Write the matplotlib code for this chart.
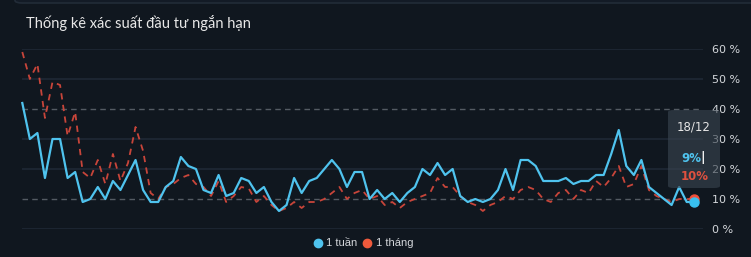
import matplotlib.pyplot as plt
from matplotlib.patches import FancyBboxPatch
from matplotlib.lines import Line2D

# series values (%), one point per day, last day = 18/12
week_1 = [42, 30, 32, 17, 30, 30, 17, 19, 9, 10,
          14, 10, 16, 13, 18, 23, 13, 9, 9, 14,
          16, 24, 21, 20, 13, 12, 18, 11, 12, 17,
          16, 12, 14, 9, 6, 8, 17, 12, 16, 17,
          20, 23, 20, 14, 19, 19, 10, 13, 10, 12,
          9, 12, 14, 20, 18, 22, 18, 20, 11, 9,
          10, 9, 10, 13, 20, 13, 23, 23, 21, 16,
          16, 16, 17, 15, 16, 16, 18, 18, 25, 33,
          21, 18, 23, 14, 12, 10, 8, 14, 9, 9]
month_1 = [59, 50, 55, 37, 49, 48, 31, 39, 19, 17,
           23, 15, 25, 16, 22, 34, 26, 12, 10, 14,
           15, 17, 18, 15, 14, 11, 16, 9, 11, 14,
           13.5, 9, 11, 8, 6, 7, 9, 7, 9, 9,
           10, 12, 14, 10, 12, 13, 10, 11, 8, 9,
           7, 9, 10, 11, 12, 17, 14, 14, 11, 9,
           8, 6, 8, 9, 11, 10, 13, 14, 13, 10,
           9, 12, 13, 10, 13, 12, 16, 14, 17, 21,
           14, 15, 21, 13, 11, 10, 9, 10, 10, 10]
y_ticks = [0, 10, 20, 30, 40, 50, 60]
series_names = ['1 tuần', '1 tháng']
last_date = '18/12'

BG = '#131b26'
BLUE = '#4fc3ee'
RED = '#c8453a'
TXT = '#d4d7db'

W, H = 751, 257
fig = plt.figure(figsize=(W / 100, H / 100), dpi=100, facecolor='#10171f')

# panel
fig.add_artist(FancyBboxPatch((15 / W, 1 - 3 / H), 760 / W, 270 / H,
                              boxstyle='round,pad=0,rounding_size=0.01',
                              transform=fig.transFigure, facecolor=BG,
                              edgecolor='#222c38', linewidth=1.2, zorder=0))

fig.text(26 / W, 1 - 23 / H, 'Thống kê xác suất đầu tư ngắn hạn',
         fontsize=10.5, color='#e8e8e8', family='Lato', va='center', ha='left')

ax = fig.add_axes([22.3 / W, 1 - 229 / H, (703 - 22.3) / W, 180 / H])
ax.set_facecolor('none')
n = len(week_1)
xs = list(range(n))
ax.set_xlim(0, (703 - 22.3) / 7.55)
ax.set_ylim(0, 60)

for v in y_ticks:
    if v in (10, 40):
        ax.axhline(v, color='#545b63', lw=1, ls=(0, (4, 3)), zorder=1)
    else:
        ax.axhline(v, color='#1f2935', lw=1.2, zorder=1)

ax.plot(xs, month_1, color=RED, lw=1.3, ls=(0, (3.5, 3)), zorder=3, clip_on=False)
ax.plot(xs, week_1, color=BLUE, lw=1.6, zorder=4, clip_on=False)
ax.plot([xs[-1]], [month_1[-1]], 'o', color='#f0503a', ms=6.5, zorder=5, clip_on=False)
ax.plot([xs[-1]], [week_1[-1]], 'o', color='#38c0f0', ms=6.5, zorder=6, clip_on=False)

ax.set_xticks([])
ax.set_yticks(y_ticks)
ax.set_yticklabels([f'{v} %' for v in y_ticks])
ax.yaxis.tick_right()
ax.tick_params(axis='y', length=0, pad=6.5, labelsize=8, labelcolor=TXT)
for s in ax.spines.values():
    s.set_visible(False)

# tooltip
fig.add_artist(FancyBboxPatch((668 / W, 1 - 188 / H), 52 / W, 78 / H,
                              boxstyle='round,pad=0,rounding_size=0.008',
                              transform=fig.transFigure, facecolor='#3a4550',
                              edgecolor='none', alpha=0.62, zorder=10))
fig.text(694 / W, 1 - 127 / H, last_date, fontsize=8.5, color='#e6e6e6',
         ha='center', va='center', zorder=11)
fig.text(691 / W, 1 - 158 / H, f'{week_1[-1]:.0f}%', fontsize=8.5, color=BLUE,
         weight='bold', ha='center', va='center', zorder=11)
fig.text(703 / W, 1 - 158 / H, '|', fontsize=9, color='#f0f0f0',
         weight='bold', ha='center', va='center', zorder=11)
fig.text(694.5 / W, 1 - 176 / H, f'{month_1[-1]:.0f}%', fontsize=8.5, color='#e0513f',
         weight='bold', ha='center', va='center', zorder=11)

# legend
leg_y = 1 - 243 / H
for x_dot, x_txt, col, name in [(317.7, 326, BLUE, series_names[0]),
                                (366.7, 376, '#ef5a3c', series_names[1])]:
    fig.add_artist(Line2D([x_dot / W], [leg_y], marker='o', ms=6, color=col,
                          transform=fig.transFigure))
    fig.text(x_txt / W, leg_y, name, fontsize=8, color=TXT, family='Liberation Sans',
             ha='left', va='center')

fig.savefig('out.png', dpi=100, facecolor=fig.get_facecolor())
